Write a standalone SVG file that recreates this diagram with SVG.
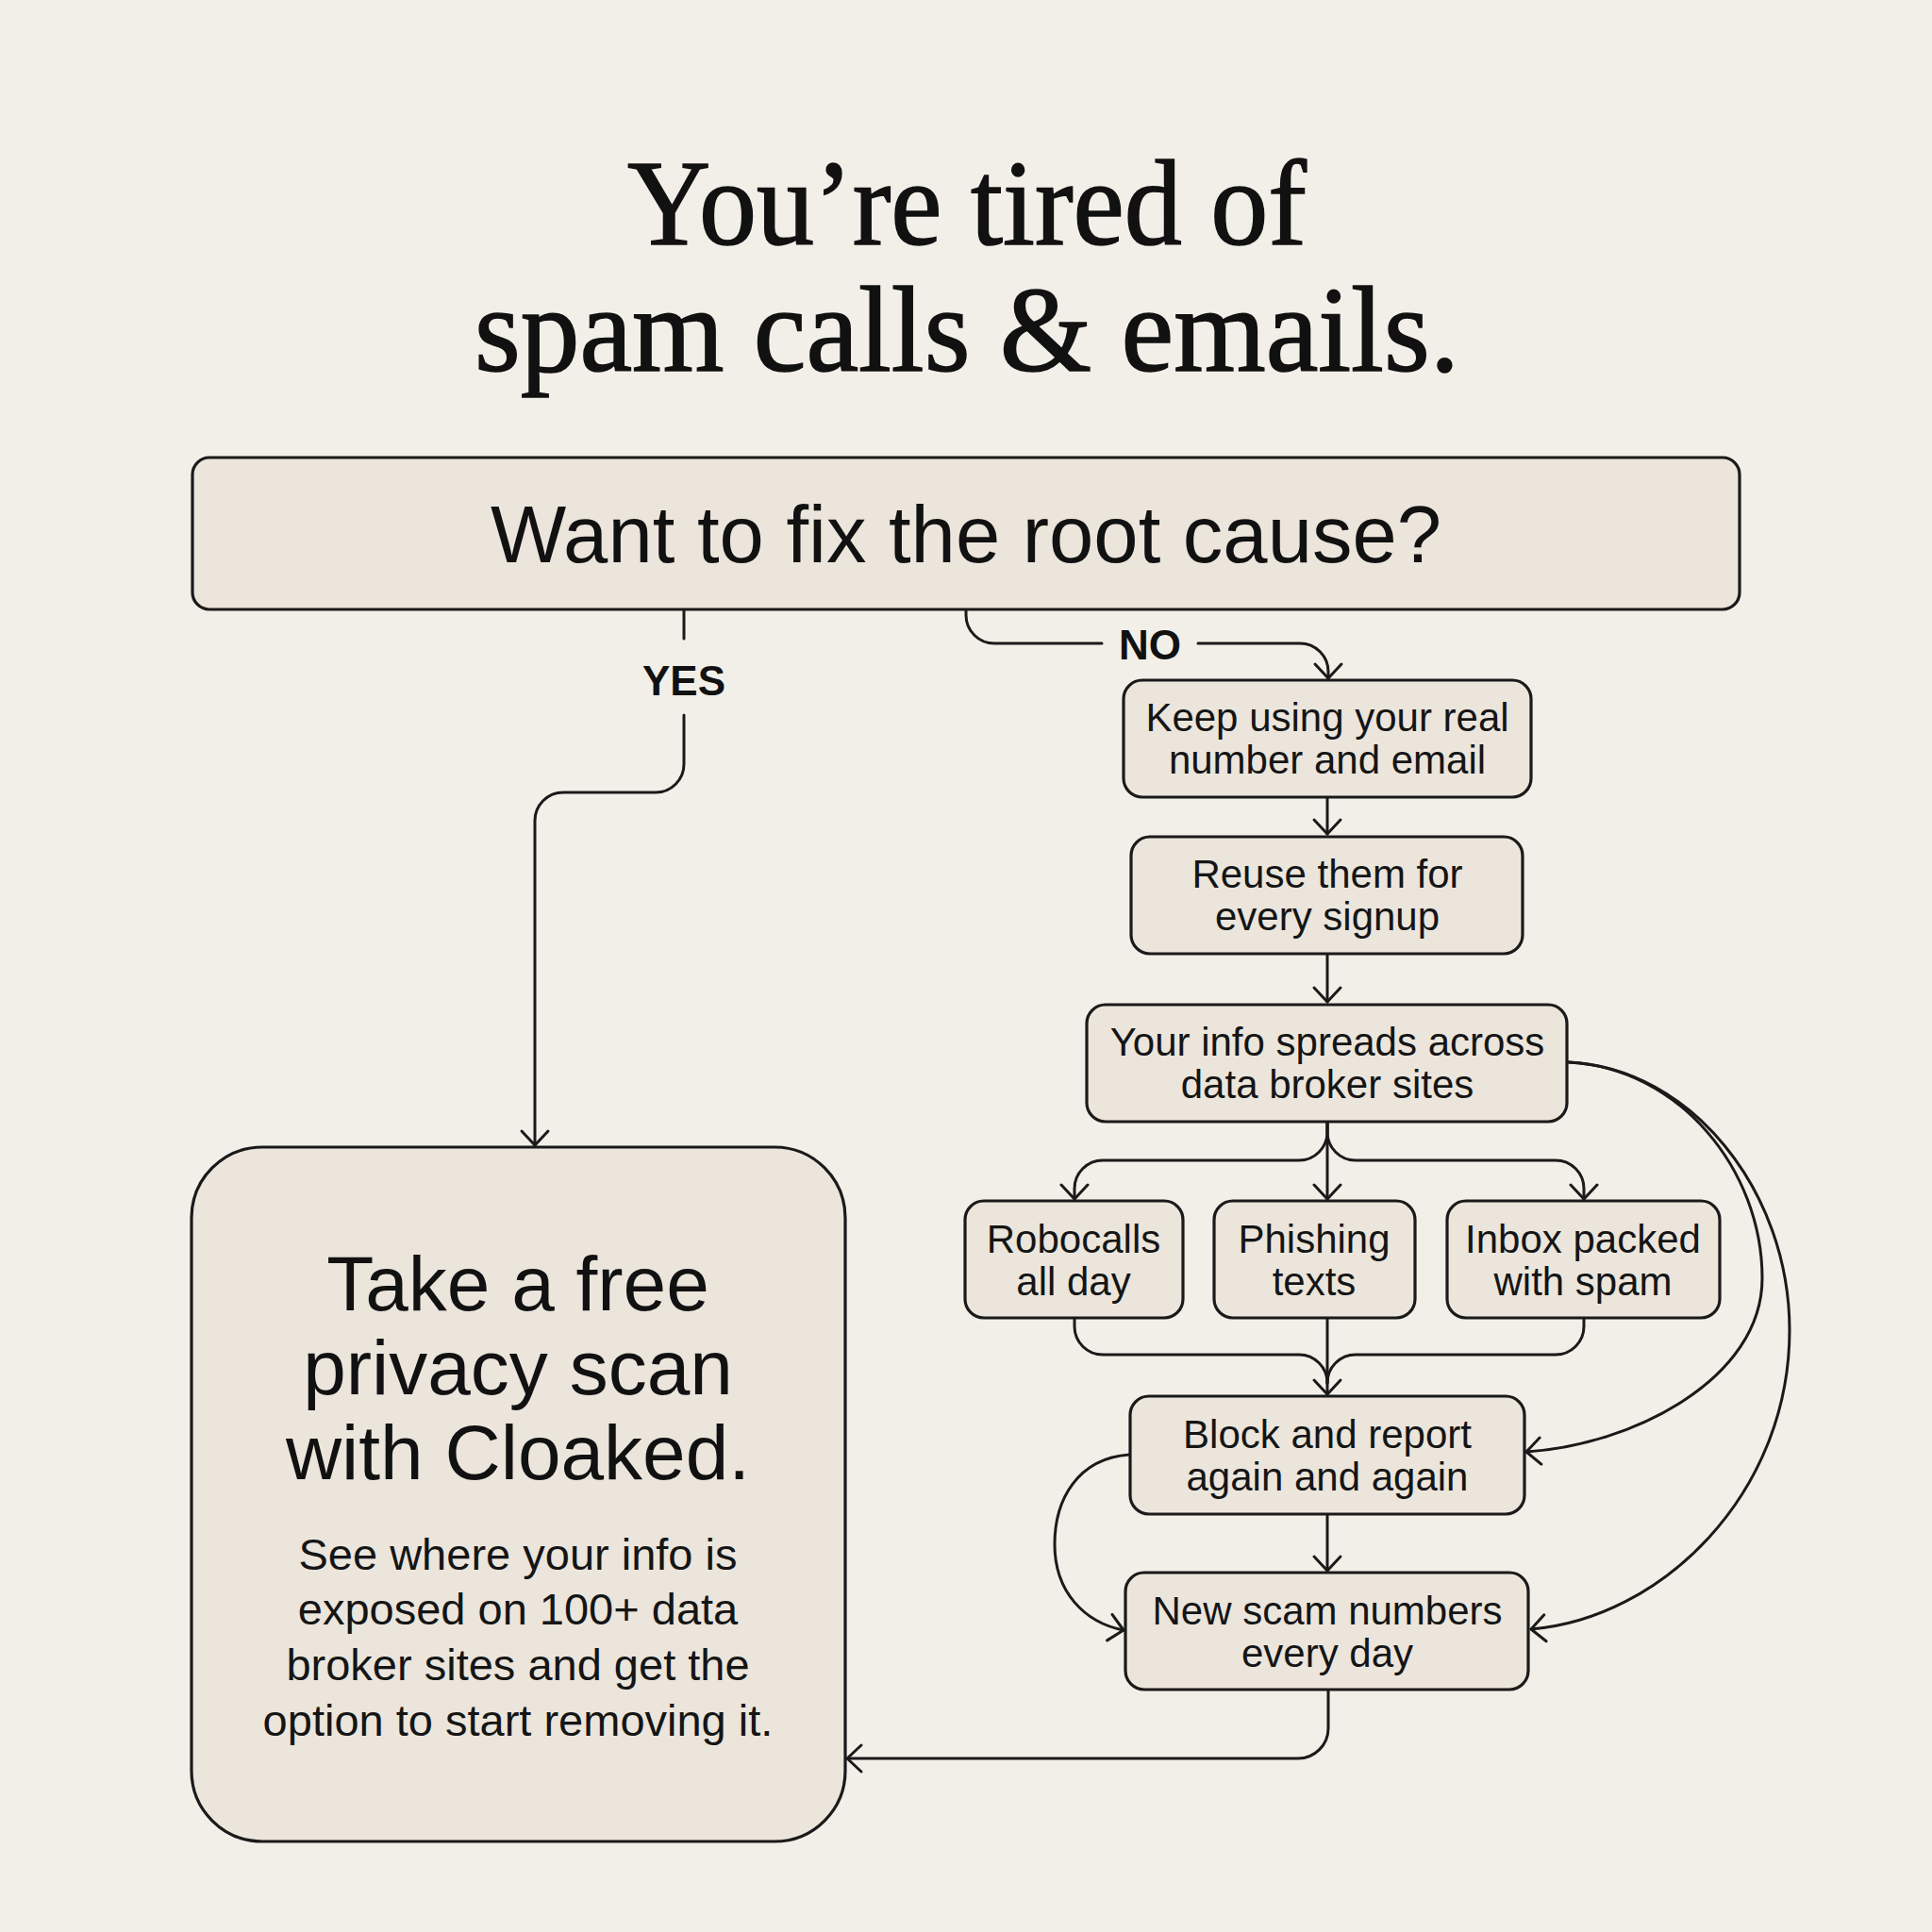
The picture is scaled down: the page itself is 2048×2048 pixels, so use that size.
<svg xmlns="http://www.w3.org/2000/svg" width="2048" height="2048" viewBox="0 0 2048 2048">
<defs>
<style>
.bg{fill:#f2efe8}
.box{fill:#ebe5dc;stroke:#1a1a1a;stroke-width:3.2}
.title{font-family:"Liberation Serif","Times New Roman",serif;font-size:130px;fill:#111;stroke:#111;stroke-width:1.6;text-anchor:middle}
.q{font-family:"Liberation Sans",Arial,sans-serif;font-size:85px;fill:#111;text-anchor:middle}
.lbl{font-family:"Liberation Sans",Arial,sans-serif;font-size:44px;font-weight:bold;fill:#111;text-anchor:middle}
.nt{font-family:"Liberation Sans",Arial,sans-serif;font-size:42px;fill:#151515;text-anchor:middle}
.h{font-family:"Liberation Sans",Arial,sans-serif;font-size:82px;fill:#111;text-anchor:middle}
.p{font-family:"Liberation Sans",Arial,sans-serif;font-size:47px;fill:#151515;text-anchor:middle}
.c{fill:none;stroke:#1a1a1a;stroke-width:3;stroke-linecap:round;stroke-linejoin:round}
</style>
<marker id="arr" viewBox="-20 -20 40 40" refX="0" refY="0" markerWidth="40" markerHeight="40" markerUnits="userSpaceOnUse" orient="auto">
<path d="M-15,-14 L0,0 L-15,14" fill="none" stroke="#1a1a1a" stroke-width="3" stroke-linecap="round" stroke-linejoin="round"/>
</marker>
</defs>
<rect class="bg" x="0" y="0" width="2048" height="2048"/>

<g id="title">
<text class="title" x="1025" y="259" textLength="720" lengthAdjust="spacingAndGlyphs">You’re tired of</text>
<text class="title" x="1025" y="393" textLength="1044" lengthAdjust="spacingAndGlyphs">spam calls &amp; emails.</text>
</g>

<g id="connectors">
<path class="c" d="M725 646 V677"/>
<path class="c" d="M725 758 V810 A30 30 0 0 1 695 840 H597 A30 30 0 0 0 567 870 V1214" marker-end="url(#arr)"/>
<path class="c" d="M1024 646 V652 A30 30 0 0 0 1054 682 H1168"/>
<path class="c" d="M1270 682 H1378 A30 30 0 0 1 1408 712 V719" marker-end="url(#arr)"/>
<path class="c" d="M1407 845 V884" marker-end="url(#arr)"/>
<path class="c" d="M1407 1011 V1062" marker-end="url(#arr)"/>
<path class="c" d="M1407 1189 V1271" marker-end="url(#arr)"/>
<path class="c" d="M1407 1189 V1200 A30 30 0 0 1 1377 1230 H1169 A30 30 0 0 0 1139 1260 V1271" marker-end="url(#arr)"/>
<path class="c" d="M1407 1189 V1200 A30 30 0 0 0 1437 1230 H1649 A30 30 0 0 1 1679 1260 V1271" marker-end="url(#arr)"/>
<path class="c" d="M1139 1397 V1406 A30 30 0 0 0 1169 1436 H1377 A30 30 0 0 1 1407 1466"/>
<path class="c" d="M1679 1397 V1406 A30 30 0 0 1 1649 1436 H1437 A30 30 0 0 0 1407 1466"/>
<path class="c" d="M1407 1397 V1478" marker-end="url(#arr)"/>
<path class="c" d="M1407 1605 V1665" marker-end="url(#arr)"/>
<path class="c" d="M1197 1542 C1142 1546 1118 1590 1118 1637 C1118 1688 1150 1720 1191 1728" marker-end="url(#arr)"/>
<path class="c" d="M1663 1126 C1780 1132 1868 1240 1868 1355 C1868 1462 1730 1532 1618 1539" marker-end="url(#arr)"/>
<path class="c" d="M1663 1126 C1792 1132 1897 1262 1897 1410 C1897 1585 1760 1716 1623 1727" marker-end="url(#arr)"/>
<path class="c" d="M1408 1791 V1832 A32 32 0 0 1 1376 1864 H898" marker-end="url(#arr)"/>
<text class="lbl" x="725" y="737">YES</text>
<text class="lbl" x="1219" y="699">NO</text>
</g>

<g id="n-question">
<rect class="box" x="204" y="485" width="1640" height="161" rx="18"/>
<text class="q" x="1024" y="596">Want to fix the root cause?</text>
</g>

<g id="n-keep">
<rect class="box" x="1191" y="721" width="432" height="124" rx="20"/>
<text class="nt" x="1407" y="775">Keep using your real</text>
<text class="nt" x="1407" y="820">number and email</text>
</g>

<g id="n-reuse">
<rect class="box" x="1199" y="887" width="415" height="124" rx="20"/>
<text class="nt" x="1407" y="941">Reuse them for</text>
<text class="nt" x="1407" y="986">every signup</text>
</g>

<g id="n-spread">
<rect class="box" x="1152" y="1065" width="509" height="124" rx="20"/>
<text class="nt" x="1407" y="1119">Your info spreads across</text>
<text class="nt" x="1407" y="1164">data broker sites</text>
</g>

<g id="n-robo">
<rect class="box" x="1023" y="1273" width="231" height="124" rx="20"/>
<text class="nt" x="1138" y="1328">Robocalls</text>
<text class="nt" x="1138" y="1373">all day</text>
</g>

<g id="n-phish">
<rect class="box" x="1287" y="1273" width="213" height="124" rx="20"/>
<text class="nt" x="1393" y="1328">Phishing</text>
<text class="nt" x="1393" y="1373">texts</text>
</g>

<g id="n-inbox">
<rect class="box" x="1534" y="1273" width="289" height="124" rx="20"/>
<text class="nt" x="1678" y="1328">Inbox packed</text>
<text class="nt" x="1678" y="1373">with spam</text>
</g>

<g id="n-block">
<rect class="box" x="1198" y="1480" width="418" height="125" rx="20"/>
<text class="nt" x="1407" y="1535">Block and report</text>
<text class="nt" x="1407" y="1580">again and again</text>
</g>

<g id="n-newscam">
<rect class="box" x="1193" y="1667" width="427" height="124" rx="20"/>
<text class="nt" x="1407" y="1722">New scam numbers</text>
<text class="nt" x="1407" y="1767">every day</text>
</g>

<g id="n-cloaked">
<rect class="box" x="203" y="1216" width="693" height="736" rx="75"/>
<text class="h" x="549" y="1389">Take a free</text>
<text class="h" x="549" y="1478">privacy scan</text>
<text class="h" x="549" y="1568">with Cloaked.</text>
<text class="p" x="549" y="1664">See where your info is</text>
<text class="p" x="549" y="1722">exposed on 100+ data</text>
<text class="p" x="549" y="1781">broker sites and get the</text>
<text class="p" x="549" y="1840">option to start removing it.</text>
</g>
</svg>
